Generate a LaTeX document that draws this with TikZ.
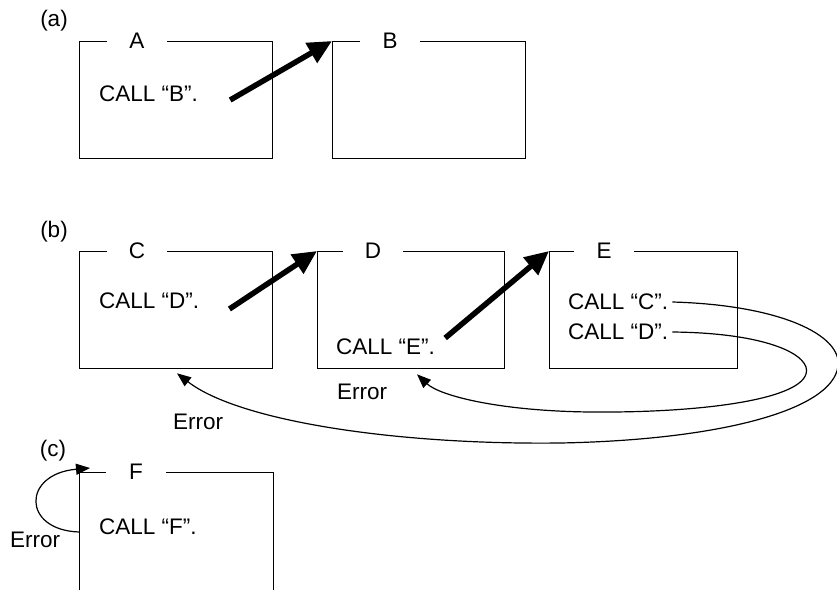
\documentclass[tikz,border=0pt]{standalone}
\usepackage{fontspec}
\setmainfont{Liberation Sans}
\usetikzlibrary{arrows.meta}
\begin{document}
\begin{tikzpicture}[x=1pt,y=-1pt,
  box/.style={draw, line width=1.3pt, anchor=north west, minimum height=117pt, inner sep=0},
  lbl/.style={fill=white, minimum width=60pt, inner sep=0, font=\fontsize{22.5}{27}\selectfont},
  txt/.style={anchor=west, inner sep=0, font=\fontsize{22.5}{27}\selectfont},
  tag/.style={inner sep=0, font=\fontsize{22.5}{27}\selectfont},
  bigarrow/.style={line width=5.5pt, -{Triangle[length=24pt,width=22pt]}},
  errarrow/.style={line width=1.2pt, -{Triangle[length=14pt,width=11pt]}}]
\useasboundingbox (0,0) rectangle (837,589);
\clip (0,0) rectangle (837,589);
% (a)
\node[tag] (la) at (54,21) {(a)};
\node[box, minimum width=193pt] (A) at (79,41) {};
\node[lbl] (tA) at ([xshift=58pt]A.north west) {A};
\node[box, minimum width=193pt] (B) at (332,41) {};
\node[lbl] (tB) at ([xshift=58pt]B.north west) {B};
\node[txt] (cB) at (99,94) {CALL “B”.};
\coordinate (sAB) at ([xshift=32pt,yshift=-6pt]cB.east);
\draw[bigarrow] (sAB) -- (B.north west);
% (b)
\node[tag] (lb) at (54,232) {(b)};
\node[box, minimum width=193pt] (C) at (79,251) {};
\node[lbl] (tC) at ([xshift=58pt]C.north west) {C};
\node[box, minimum width=187pt] (D) at (317,251) {};
\node[lbl] (tD) at ([xshift=56pt]D.north west) {D};
\node[box, minimum width=188pt] (E) at (549,251) {};
\node[lbl] (tE) at ([xshift=55pt]E.north west) {E};
\node[txt] (cD) at (99,301) {CALL “D”.};
\node[txt] (cE) at (336,347) {CALL “E”.};
\node[txt] (eC) at (568,302) {CALL “C”.};
\node[txt] (eD) at (568,332) {CALL “D”.};
\node[txt] (errD) at (337,392) {Error};
\node[txt] (errC) at (173,422) {Error};
\coordinate (sCD) at ([xshift=30pt,yshift=-8pt]cD.east);
\coordinate (sDE) at ([xshift=10pt,yshift=9pt]cE.east);
\draw[bigarrow] (sCD) -- (D.north west);
\draw[bigarrow] (sDE) -- (E.north west);
\coordinate (tipD) at ([xshift=100pt,yshift=-5pt]D.south west);
\coordinate (tipC) at ([xshift=98pt,yshift=-4pt]C.south west);
\draw[errarrow] ([xshift=4pt]eD.east) .. controls (770,333) and (812,356) .. (806,374)
  .. controls (798,400) and (700,413) .. (590,412)
  .. controls (500,411) and (440,396) .. (tipD);
\draw[errarrow] ([xshift=4pt]eC.east) .. controls (780,305) and (842,335) .. (838,366)
  .. controls (833,410) and (720,440) .. (560,443)
  .. controls (400,445) and (240,422) .. (tipC);
% (c)
\node[tag] (lc) at (53,451) {(c)};
\node[box, minimum width=194pt, minimum height=150pt] (F) at (79,472) {};
\node[lbl] (tF) at ([xshift=57pt]F.north west) {F};
\node[txt] (cF) at (99,527) {CALL “F”.};
\node[txt] (errF) at (10,540) {Error};
\coordinate (sF) at ([yshift=-60pt]F.north west);
\coordinate (tipF) at ([xshift=11pt,yshift=4pt]F.north west);
\draw[errarrow] (sF) .. controls (22,530) and (22,474) .. (tipF);
\end{tikzpicture}
\end{document}
